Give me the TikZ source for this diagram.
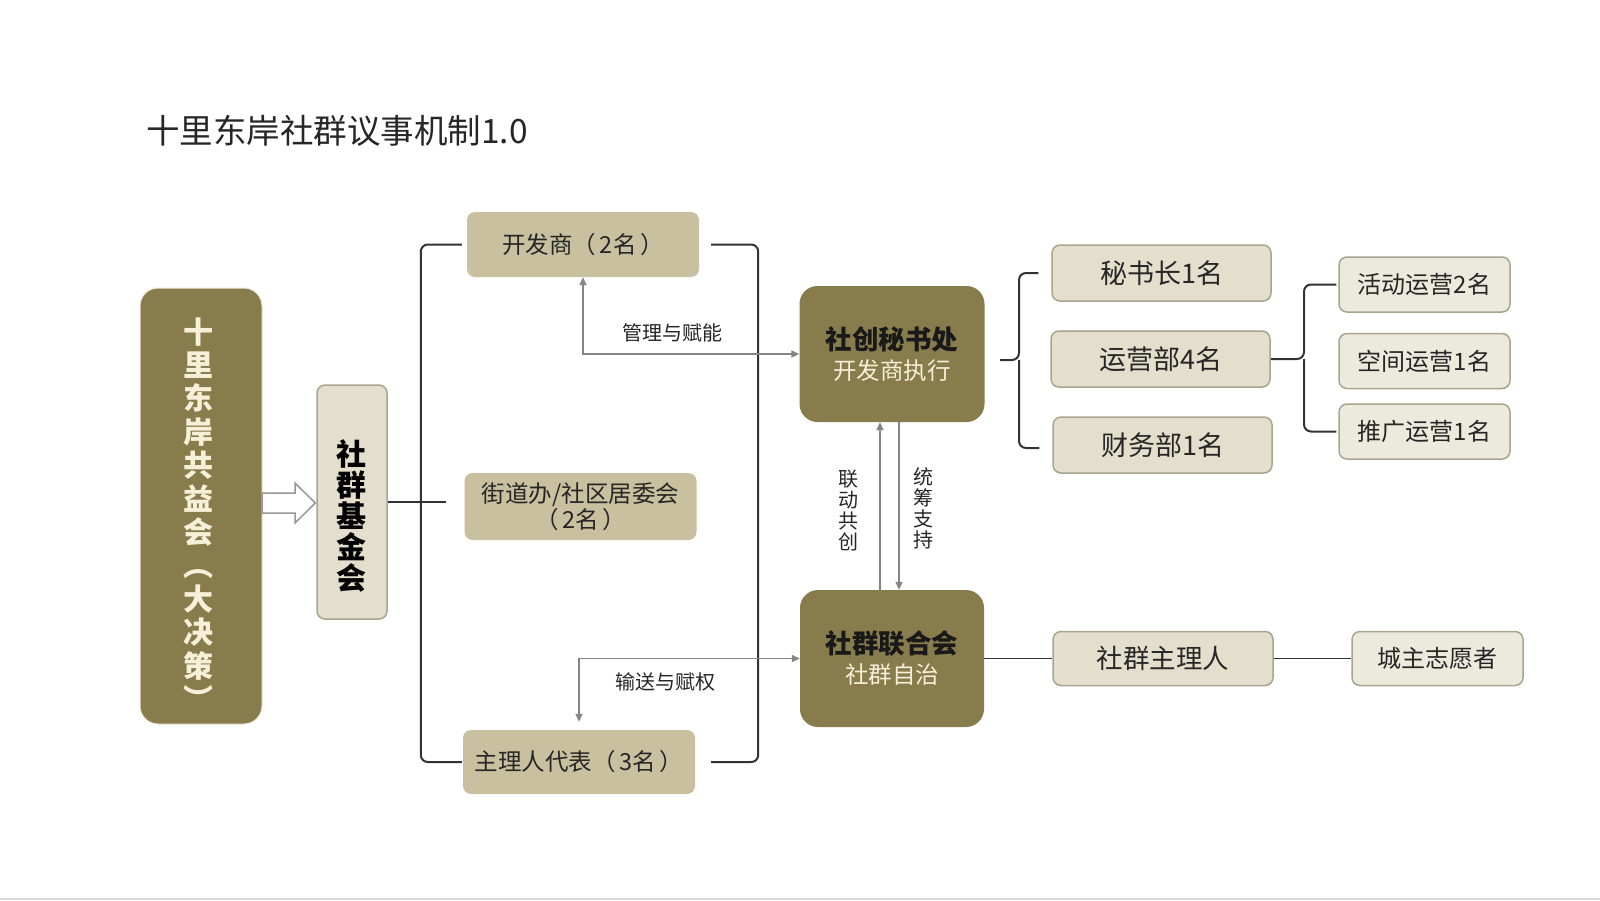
\documentclass[tikz,border=0pt]{standalone}
\usepackage{fontspec}
\setmainfont{Noto Sans CJK SC}
\usetikzlibrary{calc,arrows.meta}
\definecolor{olive}{HTML}{887C4C}
\definecolor{midbeige}{HTML}{C8C09E}
\definecolor{lightbeige}{HTML}{E3DFCC}
\definecolor{lightest}{HTML}{ECE9DD}
\definecolor{bord}{HTML}{A9A48E}
\definecolor{txt}{HTML}{262626}
\definecolor{cream}{HTML}{F6F0D8}
\definecolor{arrgray}{HTML}{858585}
\definecolor{brkcol}{HTML}{333333}
\begin{document}
\begin{tikzpicture}[x=1pt,y=-1pt,
  box/.style={rectangle, rounded corners=8pt, inner sep=0pt, align=center, text=txt},
  midbox/.style={box, fill=midbeige, minimum width=232pt, minimum height=65pt, font=\fontsize{23.5}{27}\selectfont},
  ltbox/.style={box, fill=lightbeige, draw=bord, line width=1.5pt, minimum width=219pt, minimum height=56pt, font=\fontsize{27}{30}\selectfont},
  lstbox/.style={box, fill=lightest, draw=bord, line width=1.5pt, minimum width=171pt, minimum height=55pt, font=\fontsize{24}{27}\selectfont},
  darkbox/.style={box, rounded corners=18pt, fill=olive, minimum width=185pt, minimum height=136pt, font=\fontsize{23.5}{30}\selectfont},
  vtext/.style={inner sep=0pt, align=center},
  conn/.style={draw=arrgray, line width=1.5pt},
  arr/.style={conn, {Triangle[length=8pt,width=7pt]}-{Triangle[length=8pt,width=7pt]}},
  arrone/.style={conn, -{Triangle[length=8pt,width=7pt]}},
  brk/.style={draw=brkcol, line width=2pt, rounded corners=7pt},
  plain/.style={draw=brkcol, line width=1.5pt},
  lab/.style={font=\fontsize{20}{21}\selectfont, text=txt, align=center, inner sep=0pt}
]
\useasboundingbox[fill=white] (0,0) rectangle (1600,900);
\fill[black!14] (0,897.5) rectangle (1600,900);

% title
\node[anchor=west, inner sep=0pt, text=txt, font=\fontsize{33.5}{38}\selectfont] (title) at (146,131) {十里东岸社群议事机制1.0};

% left boxes
\node[box, rounded corners=18pt, fill=olive, draw=lightbeige!70, line width=1pt, minimum width=122pt, minimum height=436pt] (big) at (201,506) {};
\node[vtext, text=cream, font=\fontsize{30}{33.4}\selectfont\bfseries] (bigtext) at ($(big.center)+(-3,8)$)
  {十\\里\\东\\岸\\共\\益\\会\\︵\\大\\决\\策\\︶};
\node[box, fill=lightbeige, draw=bord, line width=1.5pt, minimum width=70pt, minimum height=234pt] (fund) at (352,502) {};
\node[vtext, text=black, font=\fontsize{30}{31}\selectfont\bfseries] (fundtext) at ($(fund.center)+(-1,14)$)
  {社\\群\\基\\金\\会};

% hollow arrow
\coordinate (ha) at (262,503);
\draw[draw=arrgray!85, fill=white, line width=1.5pt]
  ($(ha)+(0,-10)$) -- ($(ha)+(33,-10)$) -- ($(ha)+(33,-20)$) -- ($(fund.west |- ha)+(-1,0)$)
  -- ($(ha)+(33,20)$) -- ($(ha)+(33,10)$) -- ($(ha)+(0,10)$) -- cycle;

% middle column
\node[midbox] (dev) at (583,244.5) {开发商（\kern.15em 2名\kern.15em）};
\node[midbox, minimum height=67pt, font=\fontsize{23.5}{26}\selectfont] (street) at (580.5,506.5) {街道办/社区居委会\\（\kern.15em 2名\kern.15em）};
\node[midbox, minimum height=64pt] (rep) at (579,762) {主理人代表（\kern.15em 3名\kern.15em）};

% brackets
\draw[plain] (fund.east) -- ($(fund.east -| street.west)+(-18,0)$);
\draw[brk] ($(dev.west)+(-5,0)$) -- ++(-41,0) |- ($(rep.west)+(-1,0)$);
\draw[brk] ($(dev.east)+(12,0)$) -- ++(47,0) |- ($(rep.east)+(16,0)$);

% dark boxes
\node[darkbox] (sec) at (892,354)
  {{\fontsize{26.5}{30}\selectfont\bfseries\color{black!90}社创秘书处}\\{\color{cream}开发商执行}};
\node[darkbox, minimum width=184pt, minimum height=137pt] (union) at (892,658.5)
  {{\fontsize{26.5}{30}\selectfont\bfseries\color{black!90}社群联合会}\\{\color{cream}社群自治}};

% arrows between
\draw[arr] (dev.south) |- (sec.west);
\draw[arr] ($(rep.north)+(0,-8)$) |- (union.west);
\node[lab] (l1) at (672,333) {管理与赋能};
\node[lab] (l2) at (665,682) {输送与赋权};
\draw[arrone] ($(union.north)+(-12,0)$) -- ($(sec.south)+(-12,0)$);
\draw[arrone] ($(sec.south)+(7,0)$) -- ($(union.north)+(7,0)$);
\node[lab] (l3) at (848,511) {联\\动\\共\\创};
\node[lab] (l4) at (923,508) {统\\筹\\支\\持};

% right column
\node[ltbox] (s1) at (1161.5,273) {秘书长1名};
\node[ltbox] (s2) at (1160.5,359) {运营部4名};
\node[ltbox] (s3) at (1162.5,445) {财务部1名};
\node[lstbox] (t1) at (1424.5,284.5) {活动运营2名};
\node[lstbox] (t2) at (1424.5,361) {空间运营1名};
\node[lstbox] (t3) at (1424.5,431.5) {推广运营1名};

\coordinate (bj) at (1019,360);
\coordinate (bt) at (1000,360);
\draw[brk] ($(s1.west)+(-13,0)$) -| (bj) -- (bt);
\draw[brk] ($(s3.west)+(-13,3)$) -| (bj);
\coordinate (sj) at (1304,359);
\draw[brk] ($(t1.west)+(-2,0)$) -| (sj) -- (s2.east);
\draw[brk] ($(t3.west)+(-2,0)$) -| (sj);

% bottom right
\node[ltbox, minimum width=220pt, minimum height=54pt, font=\fontsize{26.5}{30}\selectfont] (z1) at (1163,658.5) {社群主理人};
\node[lstbox, minimum height=54pt] (z2) at (1437.5,658.5) {城主志愿者};
\draw[plain] (union.east) -- (z1.west);
\draw[plain] (z1.east) -- (z2.west);
\end{tikzpicture}
\end{document}
